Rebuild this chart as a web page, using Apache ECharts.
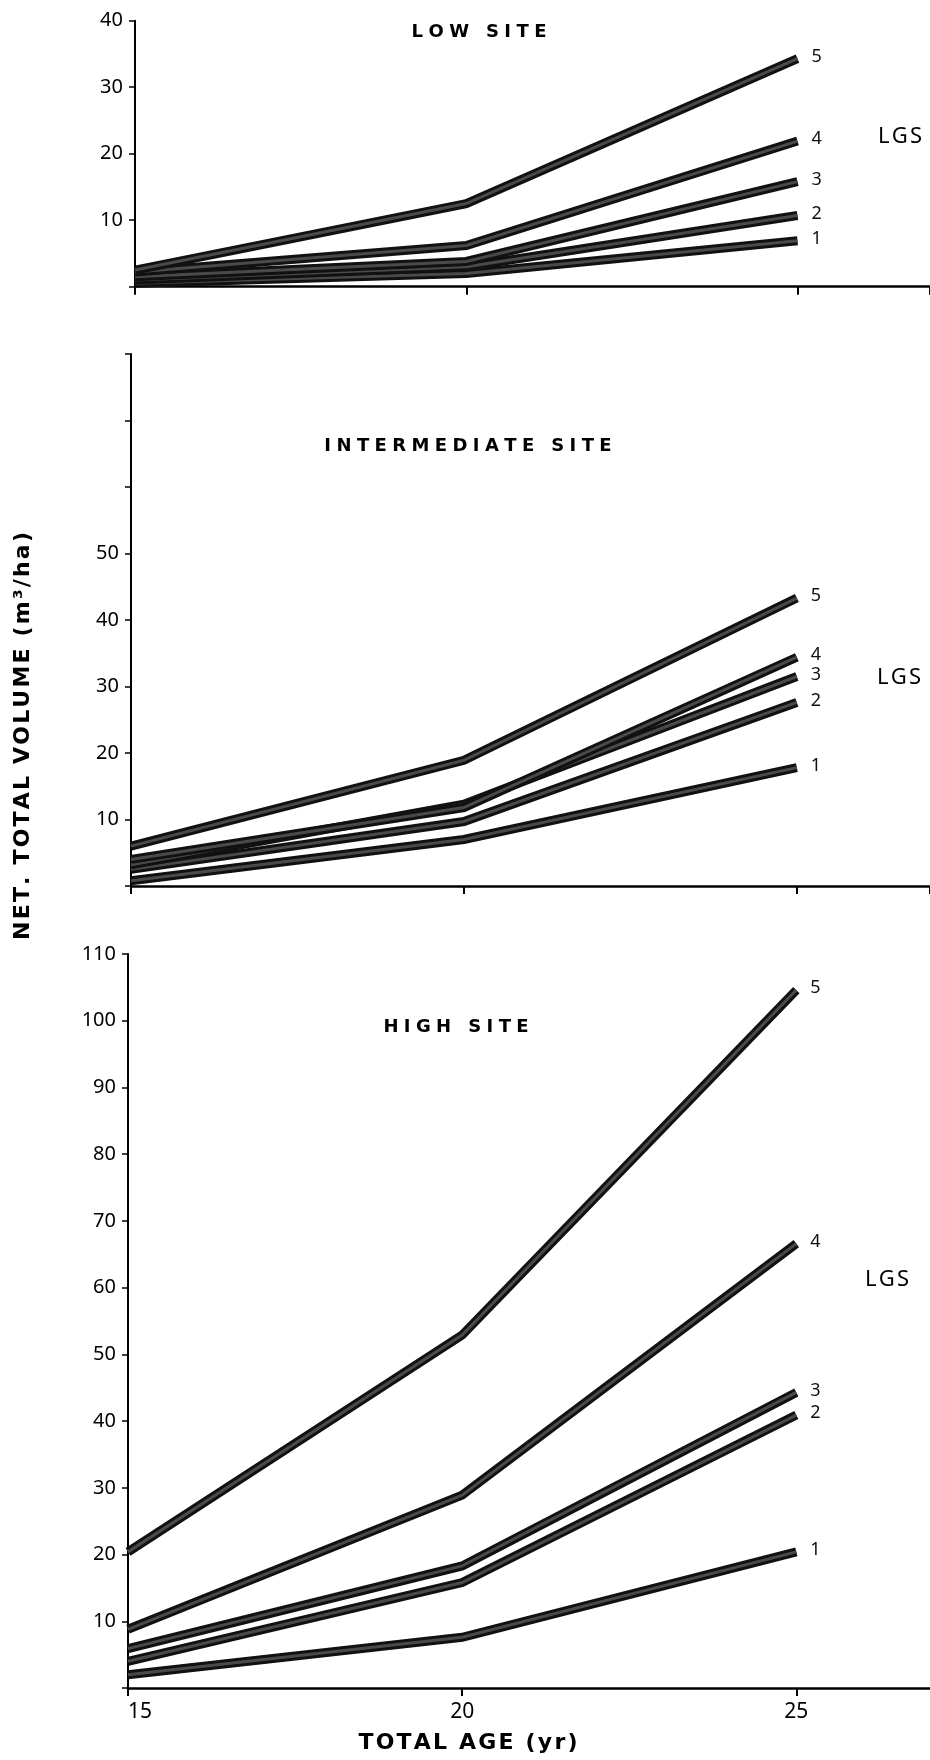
<!DOCTYPE html>
<html lang="en">
<head>
    <meta charset="UTF-8">
    <title>Net total volume by LGS</title>
    <script src="https://cdn.jsdelivr.net/npm/echarts@6/dist/echarts.min.js"></script>
    <style>
        html, body { margin: 0; padding: 0; background: #fff; }
        #main { width: 930px; height: 1760px; }
    </style>
</head>
<body>
<div id="main"></div>
<script>
    // total age (yr)
    var ages = [15, 20, 25];
    var lgsNames = ['1', '2', '3', '4', '5'];

    // net total volume (m3/ha), one row per LGS 1..5
    var lowSite = [
        [0.5, 2.0, 6.9],
        [1.0, 3.0, 10.7],
        [1.5, 3.8, 15.8],
        [2.2, 6.2, 21.9],
        [2.5, 12.5, 34.3]
    ];
    var intermediateSite = [
        [0.8, 7.0, 17.8],
        [2.5, 9.7, 27.6],
        [3.2, 12.3, 31.5],
        [4.0, 11.8, 34.4],
        [6.0, 18.9, 43.3]
    ];
    var highSite = [
        [2.0, 7.6, 20.4],
        [4.0, 15.8, 40.9],
        [5.9, 18.3, 44.3],
        [8.8, 28.9, 66.6],
        [20.4, 52.9, 104.6]
    ];

    var yMax = [40, 80, 110];
    var yLabelMax = [40, 50, 110];
    var siteTitles = ['LOW SITE', 'INTERMEDIATE SITE', 'HIGH SITE'];

    var font = 'Noto Sans, DejaVu Sans, sans-serif';
    var myChart = echarts.init(document.getElementById('main'));

    // no letterSpacing in zrender text, so pad with thin/hair spaces
    function spaced(s, gap) {
        return s.split('').join(gap);
    }
    var wide = '\u2009\u200a';
    var narrow = '\u200a';

    var grids = [
        {left: 135, top: 20.7, width: 795, height: 266},
        {left: 131, top: 354, width: 799, height: 532},
        {left: 128, top: 954, width: 802, height: 734}
    ];

    var xAxes = [], yAxes = [], series = [];
    [lowSite, intermediateSite, highSite].forEach(function (site, p) {
        xAxes.push({
            type: 'value', gridIndex: p, min: 15, max: 27, interval: 5,
            axisLine: {lineStyle: {color: '#000', width: 2.5}},
            axisTick: {length: 8, lineStyle: {color: '#000', width: 2}},
            splitLine: {show: false},
            axisLabel: {
                show: p === 2, color: '#000', fontSize: 21, fontFamily: font,
                margin: 14, showMaxLabel: false, alignMinLabel: 'left'
            }
        });
        yAxes.push({
            type: 'value', gridIndex: p, min: 0, max: yMax[p], interval: 10,
            axisLine: {show: true, lineStyle: {color: '#000', width: 2}},
            axisTick: {show: true, length: 6, lineStyle: {color: '#000', width: 1.5}},
            splitLine: {show: false},
            axisLabel: {
                color: '#000', fontSize: 20, fontFamily: font, margin: 12,
                formatter: function (v) {
                    return (v === 0 || v > yLabelMax[p]) ? '' : v;
                }
            }
        });
        site.forEach(function (vals, i) {
            var pts = ages.map(function (a, k) { return [a, vals[k]]; });
            // dark band
            series.push({
                name: lgsNames[i], type: 'line', xAxisIndex: p, yAxisIndex: p,
                data: pts, symbol: 'none', silent: true,
                lineStyle: {color: '#111', width: 9, join: 'miter'},
                endLabel: {
                    show: true, formatter: '{a}', color: '#111', fontSize: 18,
                    fontFamily: font, distance: 14, offset: [0, -2]
                }
            });
            // grey speckled core of the band
            series.push({
                name: lgsNames[i] + ' core', type: 'line', xAxisIndex: p, yAxisIndex: p,
                data: pts, symbol: 'none', silent: true,
                lineStyle: {color: '#4a4a4a', width: 3, join: 'miter'}
            });
        });
    });

    var titleStyle = {fill: '#000', font: 'bold 18px DejaVu Sans, sans-serif', textAlign: 'center', textVerticalAlign: 'middle'};
    var lgsStyle = {text: spaced('LGS', narrow), fill: '#000', font: '22px ' + font, textAlign: 'center', textVerticalAlign: 'middle'};

    var option = {
        animation: false,
        backgroundColor: '#fff',
        grid: grids,
        xAxis: xAxes,
        yAxis: yAxes,
        series: series,
        graphic: [
            {type: 'text', x: 479, y: 32, style: Object.assign({text: spaced(siteTitles[0], wide)}, titleStyle)},
            {type: 'text', x: 468, y: 446, style: Object.assign({text: spaced(siteTitles[1], wide)}, titleStyle)},
            {type: 'text', x: 456, y: 1027, style: Object.assign({text: spaced(siteTitles[2], wide)}, titleStyle)},
            {type: 'text', x: 900, y: 137, style: lgsStyle},
            {type: 'text', x: 899, y: 678, style: lgsStyle},
            {type: 'text', x: 887, y: 1280, style: lgsStyle},
            {
                type: 'text', x: 23, y: 736, rotation: Math.PI / 2,
                style: {
                    text: spaced('NET. TOTAL VOLUME (m\u00b3/ha)', narrow), fill: '#000',
                    font: 'bold 22px DejaVu Sans, sans-serif', textAlign: 'center', textVerticalAlign: 'middle'
                }
            },
            {
                type: 'text', x: 468, y: 1743,
                style: {
                    text: spaced('TOTAL AGE (yr)', narrow), fill: '#000',
                    font: 'bold 22px DejaVu Sans, sans-serif', textAlign: 'center', textVerticalAlign: 'middle'
                }
            }
        ]
    };

    myChart.setOption(option);
</script>
</body>
</html>
